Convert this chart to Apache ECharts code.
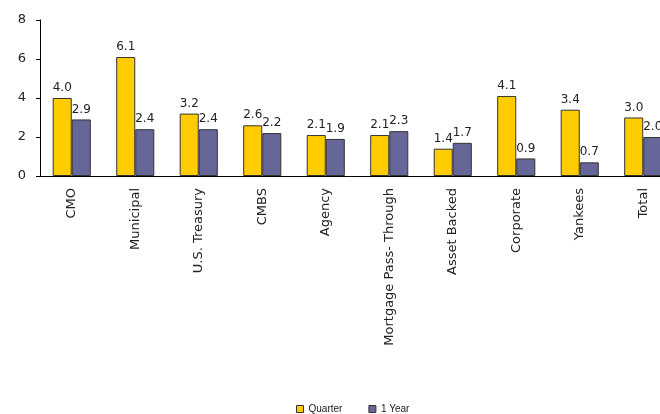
<!DOCTYPE html>
<html><head><meta charset="utf-8">
<script src="https://cdn.jsdelivr.net/npm/echarts@6/dist/echarts.min.js"></script>
<style>html,body{margin:0;padding:0;background:#fff}#c{width:660px;height:414px}</style>
</head><body><div id="c"></div>
<script>
const categories = ["CMO","Municipal","U.S. Treasury","CMBS","Agency","Mortgage Pass- Through","Asset Backed","Corporate","Yankees","Total"];
const quarter = [4.0,6.1,3.2,2.6,2.1,2.1,1.4,4.1,3.4,3.0];
const oneYear = [2.9,2.4,2.4,2.2,1.9,2.3,1.7,0.9,0.7,2.0];
const yTicks = [0,2,4,6,8];

const chart = echarts.init(document.getElementById('c'));
const lbl = {show:true, position:'top', distance:4, color:'#222', fontFamily:'DejaVu Sans', fontSize:12, formatter:p=>p.value.toFixed(1)};
chart.setOption({
  animation:false,
  textStyle:{fontFamily:'Liberation Sans, Arial'},
  grid:{left:40, width:635, top:20, height:156, containLabel:false, outerBoundsMode:'none'},
  legend:{top:399, left:291, itemWidth:7, itemHeight:7, itemGap:26,
    textStyle:{fontSize:10, color:'#222'}, icon:'rect',
    itemStyle:{borderColor:'#333', borderWidth:1},
    data:['Quarter','1 Year']},
  xAxis:{type:'category', data:categories,
    axisLine:{lineStyle:{color:'#000', width:1}}, axisTick:{show:false},
    axisLabel:{rotate:90, interval:0, color:'#222', fontSize:13, fontFamily:'DejaVu Sans', margin:12}},
  yAxis:{type:'value', min:yTicks[0], max:yTicks[yTicks.length-1], interval:2,
    splitLine:{show:false},
    axisLine:{show:true, lineStyle:{color:'#000'}},
    axisTick:{show:true, length:4, lineStyle:{color:'#000'}},
    axisLabel:{color:'#222', fontSize:13, fontFamily:'DejaVu Sans', margin:14}},
  series:[
    {name:'Quarter', type:'bar', data:quarter, barGap:'0%', barCategoryGap:'40%',
      itemStyle:{color:'#FFCC00', borderColor:'#333', borderWidth:1}, label:lbl},
    {name:'1 Year', type:'bar', data:oneYear,
      itemStyle:{color:'#666699', borderColor:'#333', borderWidth:1}, label:lbl}
  ]
});
</script></body></html>
